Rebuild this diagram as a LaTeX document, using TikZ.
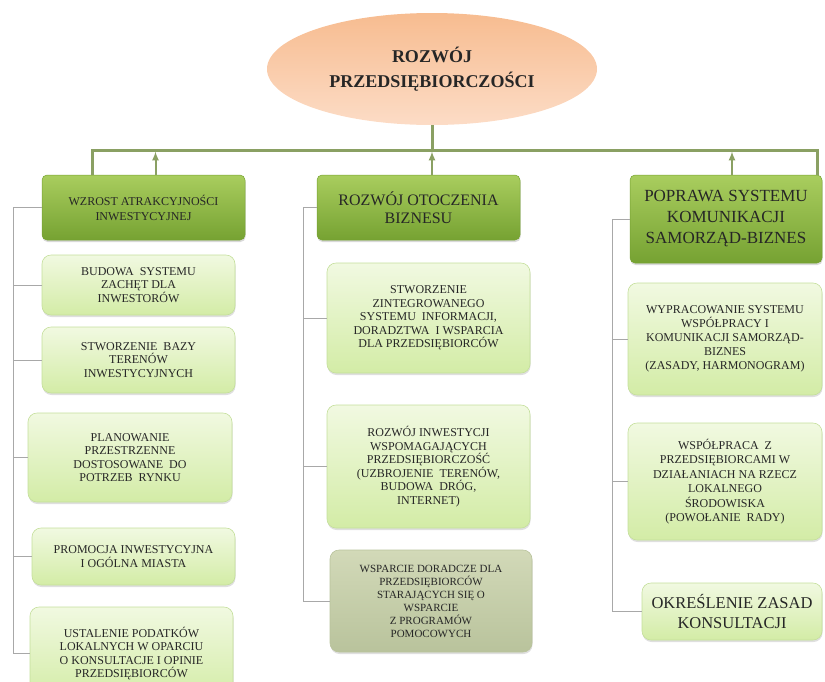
\documentclass[tikz,border=0pt]{standalone}
\usepackage{fontspec}
\setmainfont{Liberation Serif}
\usetikzlibrary{shapes.geometric,shadows}
\definecolor{peachtop}{HTML}{F7BC90}
\definecolor{peachbot}{HTML}{FCDCC6}
\definecolor{headtop}{HTML}{A9CD5E}
\definecolor{headbot}{HTML}{76A232}
\definecolor{itemtop}{HTML}{F1F9E1}
\definecolor{itembot}{HTML}{D3ECA6}
\definecolor{itemborder}{HTML}{C4DF9B}
\definecolor{graytop}{HTML}{D2D9B8}
\definecolor{graybot}{HTML}{B9C39C}
\definecolor{barcolor}{HTML}{8AA063}
\definecolor{treegray}{HTML}{A8A8A8}
\definecolor{textgray}{HTML}{262626}
\begin{document}
\begin{tikzpicture}[x=1pt, y=1pt]
\tikzstyle{goal} = [ellipse, top color = peachtop, bottom color = peachbot, minimum width = 330pt, minimum height = 112pt, align = center, text = textgray, font = \bfseries\fontsize{18}{25}\selectfont] % main goal ellipse
\tikzstyle{head} = [rectangle, rounded corners = 5pt, draw = headbot, line width = 0.5pt, top color = headtop, bottom color = headbot, align = center, text = textgray, drop shadow = {opacity = 0.3, shadow xshift = 0.5pt, shadow yshift = -2pt}] % green header of a column
\tikzstyle{item} = [rectangle, rounded corners = 9pt, draw = itemborder, line width = 0.6pt, top color = itemtop, bottom color = itembot, align = center, text = textgray, font = \fontsize{12}{13.5}\selectfont, drop shadow = {opacity = 0.25, shadow xshift = 0.5pt, shadow yshift = -2pt}] % light task box
\tikzstyle{bar} = [line width = 3pt, color = barcolor] % main bar under the goal
\tikzstyle{arrow} = [line width = 2pt, color = barcolor, -latex, shorten >= 1.5pt] % arrow from header up to the bar
\tikzstyle{tree} = [draw = treegray, line width = 0.7pt] % thin line of a column
\useasboundingbox (0,0) rectangle (825,-681); % page size
\node(goal)[goal] at (432,-69){ROZWÓJ\\PRZEDSIĘBIORCZOŚCI}; % goal on top
% column headers
\node(lhead)[head, minimum width = 203pt, minimum height = 65pt, font = \fontsize{12}{15}\selectfont] at (143.5,-207.5){WZROST ATRAKCYJNOŚCI\\INWESTYCYJNEJ};
\node(mhead)[head, minimum width = 203pt, minimum height = 65pt, font = \fontsize{16}{18}\selectfont] at (418.5,-207.5){ROZWÓJ OTOCZENIA\\BIZNESU};
\node(rhead)[head, minimum width = 192pt, minimum height = 88pt, font = \fontsize{17}{21}\selectfont] at (726,-219){POPRAWA SYSTEMU\\KOMUNIKACJI\\SAMORZĄD-BIZNES};
% left column
\node(lb1)[item, minimum width = 193pt, minimum height = 60pt] at (138.5,-285){BUDOWA \ SYSTEMU\\ZACHĘT DLA\\INWESTORÓW};
\node(lb2)[item, minimum width = 193pt, minimum height = 66pt] at (138.5,-360){STWORZENIE \ BAZY\\TERENÓW\\INWESTYCYJNYCH};
\node(lb3)[item, minimum width = 204pt, minimum height = 89pt] at (130,-457.5){PLANOWANIE\\PRZESTRZENNE\\DOSTOSOWANE \ DO\\POTRZEB \ RYNKU};
\node(lb4)[item, minimum width = 203pt, minimum height = 57pt] at (133.5,-556.5){PROMOCJA INWESTYCYJNA\\I OGÓLNA MIASTA};
\node(lb5)[item, minimum width = 203pt, minimum height = 93pt] at (131.5,-653.5){USTALENIE PODATKÓW\\LOKALNYCH W OPARCIU\\O KONSULTACJE I OPINIE\\PRZEDSIĘBIORCÓW};
% middle column
\node(mb1)[item, minimum width = 203pt, minimum height = 110pt] at (428.5,-318){STWORZENIE\\ZINTEGROWANEGO\\SYSTEMU \ INFORMACJI,\\DORADZTWA \ I WSPARCIA\\DLA PRZEDSIĘBIORCÓW};
\node(mb2)[item, minimum width = 203pt, minimum height = 123pt] at (428.5,-466.5){ROZWÓJ INWESTYCJI\\WSPOMAGAJĄCYCH\\PRZEDSIĘBIORCZOŚĆ\\(UZBROJENIE \ TERENÓW,\\BUDOWA \ DRÓG,\\INTERNET)};
\node(mb3)[item, top color = graytop, bottom color = graybot, draw = graybot, minimum width = 202pt, minimum height = 102pt, font = \fontsize{11}{13}\selectfont] at (431,-601){WSPARCIE DORADCZE DLA\\PRZEDSIĘBIORCÓW\\STARAJĄCYCH SIĘ O\\WSPARCIE\\Z PROGRAMÓW\\POMOCOWYCH};
% right column
\node(rb1)[item, minimum width = 194pt, minimum height = 112pt, font = \fontsize{12}{14}\selectfont] at (725,-339){WYPRACOWANIE SYSTEMU\\WSPÓŁPRACY I\\KOMUNIKACJI SAMORZĄD-\\BIZNES\\(ZASADY, HARMONOGRAM)};
\node(rb2)[item, minimum width = 194pt, minimum height = 117pt, font = \fontsize{12}{14.5}\selectfont] at (725,-481.5){WSPÓŁPRACA \ Z\\PRZEDSIĘBIORCAMI W\\DZIAŁANIACH NA RZECZ\\LOKALNEGO\\ŚRODOWISKA\\(POWOŁANIE \ RADY)};
\node(rb3)[item, minimum width = 180pt, minimum height = 57pt, font = \fontsize{16.5}{20}\selectfont] at (732,-611.5){OKREŚLENIE ZASAD\\KONSULTACJI};
% bar from goal to the three headers
\coordinate(barL) at (92,-150); % left end of the bar
\coordinate(barR) at (817,-150); % right end of the bar
\draw[bar](lhead.north -| barL)--(barL)--(barR)--(rhead.north -| barR);
\draw[bar](goal.south)--(goal.south |- barL);
\draw[arrow]([xshift = 12pt]lhead.north)--([xshift = 12pt]lhead.north |- barL);
\draw[arrow]([xshift = 13.5pt]mhead.north)--([xshift = 13.5pt]mhead.north |- barL);
\draw[arrow]([xshift = 6pt]rhead.north)--([xshift = 6pt]rhead.north |- barL);
% thin lines along each column
\coordinate(spineL) at (13,0);
\coordinate(spineM) at (303,0);
\coordinate(spineR) at (612,0);
\draw[tree](lhead.west)-|(spineL |- lb5.west)--(lb5.west);
\draw[tree](lb1.west)--(lb1.west -| spineL);
\draw[tree](lb2.west)--(lb2.west -| spineL);
\draw[tree](lb3.west)--(lb3.west -| spineL);
\draw[tree](lb4.west)--(lb4.west -| spineL);
\draw[tree](mhead.west)-|(spineM |- mb3.west)--(mb3.west);
\draw[tree](mb1.west)--(mb1.west -| spineM);
\draw[tree](mb2.west)--(mb2.west -| spineM);
\draw[tree](rhead.west)-|(spineR |- rb3.west)--(rb3.west);
\draw[tree](rb1.west)--(rb1.west -| spineR);
\draw[tree](rb2.west)--(rb2.west -| spineR);
\end{tikzpicture}
\end{document}
